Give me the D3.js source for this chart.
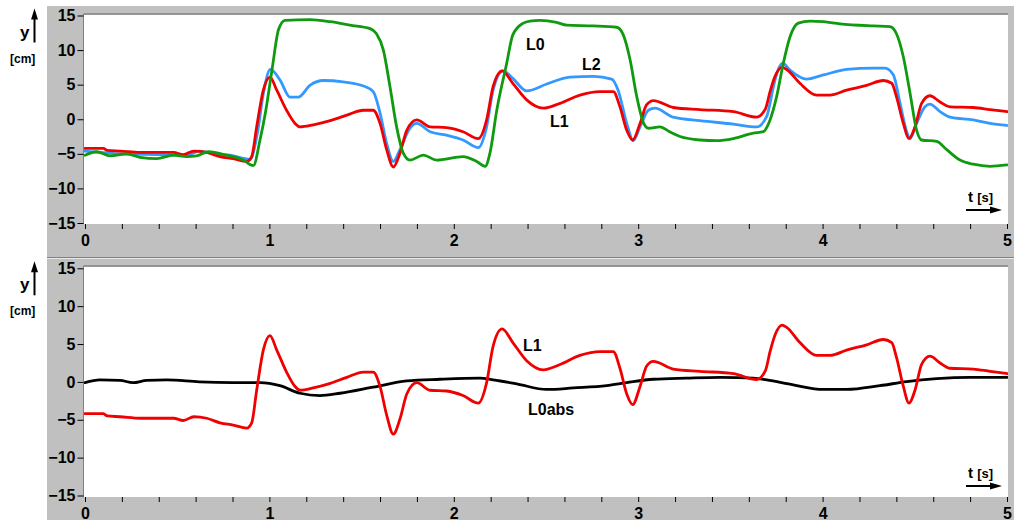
<!DOCTYPE html>
<html>
<head>
<meta charset="utf-8">
<script src="https://cdn.jsdelivr.net/npm/d3@7"></script>
<style>
  html, body { margin: 0; padding: 0; background: #ffffff; }
  svg { display: block; }
  text { font-family: Arial, "Liberation Sans", sans-serif; font-weight: bold; }
</style>
</head>
<body>
<svg id="chart" width="1014" height="520"></svg>
<script>
// ---------------- data ----------------
const yTicks = [15, 10, 5, 0, -5, -10, -15];
const xLabels = [0, 1, 2, 3, 4, 5];
const xMinorStep = 0.2;

// L0 (green)
const tL0 = [0, 0.063, 0.136, 0.226, 0.298, 0.389, 0.479, 0.551, 0.606, 0.669, 0.768, 0.858, 0.913, 0.949, 0.98, 1.015, 1.05, 1.085, 1.22, 1.33, 1.437, 1.546, 1.58, 1.618, 1.654, 1.69, 1.726, 1.762, 1.835, 1.907, 2.05, 2.124, 2.17, 2.196, 2.233, 2.287, 2.32, 2.377, 2.413, 2.467, 2.557, 2.612, 2.757, 2.883, 2.919, 2.956, 2.992, 3.03, 3.055, 3.118, 3.17, 3.227, 3.335, 3.426, 3.516, 3.624, 3.678, 3.715, 3.751, 3.787, 3.823, 3.868, 3.932, 4.004, 4.094, 4.275, 4.365, 4.40, 4.438, 4.474, 4.51, 4.537, 4.619, 4.673, 4.745, 4.817, 4.908, 5.0];
const L0  = [-5.2, -4.7, -5.3, -5.0, -5.5, -5.7, -5.2, -5.4, -5.3, -4.7, -5.2, -5.9, -6.7, -3.0, 1.2, 7.3, 13.0, 14.3, 14.4, 14.1, 13.6, 13.1, 12.4, 10.0, 4.7, -1.1, -4.9, -5.9, -5.2, -5.9, -5.4, -6.1, -6.8, -4.9, 1.3, 8.1, 12.2, 13.9, 14.2, 14.3, 14.0, 13.6, 13.5, 13.3, 12.2, 8.6, 3.3, -0.6, -1.3, -1.1, -1.8, -2.5, -3.0, -3.1, -2.8, -2.0, -1.8, -0.1, 3.3, 8.1, 11.9, 13.9, 14.2, 14.1, 13.8, 13.5, 13.4, 12.4, 9.0, 3.8, -1.6, -3.0, -3.2, -4.4, -5.9, -6.5, -6.8, -6.6];

// L1 (red)
const tL1 = [0, 0.1, 0.12, 0.19, 0.3, 0.48, 0.533, 0.59, 0.66, 0.732, 0.804, 0.877, 0.904, 0.931, 0.967, 1.003, 1.04, 1.093, 1.139, 1.166, 1.238, 1.33, 1.42, 1.51, 1.563, 1.6, 1.636, 1.672, 1.708, 1.745, 1.799, 1.871, 1.961, 2.05, 2.133, 2.178, 2.213, 2.262, 2.32, 2.395, 2.485, 2.576, 2.684, 2.793, 2.865, 2.901, 2.938, 2.97, 3.01, 3.046, 3.082, 3.19, 3.335, 3.516, 3.642, 3.69, 3.715, 3.742, 3.78, 3.805, 3.877, 3.967, 4.04, 4.13, 4.239, 4.329, 4.375, 4.40, 4.438, 4.468, 4.501, 4.537, 4.582, 4.637, 4.691, 4.817, 4.908, 5.0];
const L1  = [-4.2, -4.2, -4.5, -4.6, -4.8, -4.8, -5.1, -4.6, -4.8, -5.4, -5.7, -6.1, -5.4, -1.1, 4.2, 6.1, 4.2, 1.3, -0.6, -1.1, -0.8, -0.2, 0.6, 1.3, 1.3, -0.6, -4.4, -6.9, -4.9, -1.6, -0.1, -1.1, -1.2, -1.8, -2.8, -0.1, 4.7, 7.0, 5.2, 2.8, 1.6, 2.3, 3.5, 4.0, 4.0, 1.8, -1.6, -3.0, -0.6, 2.1, 2.7, 1.7, 1.4, 1.1, 0.3, 1.5, 4.0, 6.2, 7.5, 7.2, 5.2, 3.5, 3.5, 4.2, 4.9, 5.6, 5.2, 3.3, -0.6, -2.8, -1.1, 2.3, 3.4, 2.5, 1.8, 1.7, 1.4, 1.1];

// L2 (blue)
const tL2 = [0, 0.2, 0.4, 0.55, 0.62, 0.7, 0.786, 0.895, 0.935, 0.967, 1.005, 1.057, 1.112, 1.157, 1.22, 1.292, 1.4, 1.51, 1.563, 1.6, 1.636, 1.672, 1.708, 1.762, 1.799, 1.871, 1.961, 2.05, 2.133, 2.178, 2.213, 2.268, 2.32, 2.395, 2.504, 2.63, 2.757, 2.856, 2.891, 2.938, 2.973, 3.01, 3.055, 3.091, 3.19, 3.335, 3.516, 3.642, 3.697, 3.715, 3.733, 3.783, 3.823, 3.913, 4.004, 4.13, 4.275, 4.338, 4.384, 4.42, 4.456, 4.474, 4.51, 4.555, 4.582, 4.637, 4.691, 4.817, 4.908, 5.0];
const L2  = [-4.6, -5.0, -5.1, -5.2, -4.6, -5.0, -5.2, -5.8, -2.0, 3.7, 7.2, 5.7, 3.2, 3.2, 4.9, 5.6, 5.4, 4.8, 4.0, 0.9, -3.5, -6.1, -4.4, -1.3, -0.6, -1.8, -2.3, -3.0, -4.1, -1.1, 4.2, 7.0, 5.9, 4.1, 5.1, 6.1, 6.2, 5.8, 4.2, -0.6, -3.1, -1.1, 1.3, 1.6, 0.3, -0.2, -0.7, -1.1, 0.4, 2.3, 4.7, 8.1, 7.1, 5.8, 6.4, 7.2, 7.4, 7.4, 6.4, 2.3, -1.8, -2.8, -0.6, 1.8, 2.2, 1.1, 0.3, -0.1, -0.6, -0.9];

// L0abs (black)
const tL0abs = [0, 0.08, 0.19, 0.26, 0.335, 0.443, 0.62, 0.8, 0.95, 1.057, 1.166, 1.274, 1.383, 1.563, 1.745, 1.925, 2.142, 2.214, 2.341, 2.504, 2.648, 2.829, 2.938, 3.082, 3.263, 3.444, 3.624, 3.697, 3.841, 4.004, 4.13, 4.311, 4.456, 4.619, 4.8, 5.0];
const L0abs  = [-0.1, 0.26, 0.2, -0.1, 0.2, 0.26, 0.0, -0.1, -0.1, -0.5, -1.5, -1.8, -1.5, -0.7, 0.13, 0.35, 0.5, 0.26, -0.26, -1.0, -0.8, -0.5, -0.1, 0.35, 0.5, 0.6, 0.5, 0.26, -0.4, -1.0, -1.0, -0.5, 0.04, 0.43, 0.6, 0.6];

// ---------------- drawing ----------------
const svg = d3.select("#chart");
const GREY = "#c0c0c0";

const panels = [
  { gy0: 6, gy1: 257, wy0: 14.5, wy1: 224, yr: [223, 15.5],
    series: [
      { t: tL2, v: L2, color: "#3399ff" },
      { t: tL1, v: L1, color: "#f00000" },
      { t: tL0, v: L0, color: "#109a10" }
    ],
    labels: [
      { text: "L0", x: 526, y: 50 },
      { text: "L2", x: 582, y: 70 },
      { text: "L1", x: 550, y: 127 }
    ],
    tLabelY: 202, tArrowY: 210 },
  { gy0: 259, gy1: 520, wy0: 266.5, wy1: 497, yr: [495.5, 268.3],
    series: [
      { t: tL0abs, v: L0abs, color: "#000000" },
      { t: tL1, v: L1, color: "#f00000" }
    ],
    labels: [
      { text: "L1", x: 523, y: 351 },
      { text: "L0abs", x: 528, y: 415 }
    ],
    tLabelY: 478, tArrowY: 486 }
];

const x = d3.scaleLinear().domain([0, 5]).range([85, 1007]);
const xMinor = d3.range(0, 5 + 1e-9, xMinorStep).map(d => +d.toFixed(2));

svg.append("rect").attr("x", 0).attr("y", 0).attr("width", 1014).attr("height", 520).attr("fill", "#ffffff");

panels.forEach((p, i) => {
  const g = svg.append("g");
  g.append("rect").attr("x", 47).attr("y", p.gy0).attr("width", 1014 - 47).attr("height", p.gy1 - p.gy0).attr("fill", GREY);
  g.append("rect").attr("x", 84).attr("y", p.wy0).attr("width", 1008 - 84).attr("height", p.wy1 - p.wy0).attr("fill", "#ffffff");
  // sunken border (top + left)
  g.append("line").attr("x1", 83.5).attr("x2", 1008).attr("y1", p.wy0 - 0.5).attr("y2", p.wy0 - 0.5).attr("stroke", "#808080").attr("stroke-width", 1.5);
  g.append("line").attr("x1", 83.5).attr("x2", 83.5).attr("y1", p.wy0 - 0.5).attr("y2", p.wy1).attr("stroke", "#808080").attr("stroke-width", 1);

  const y = d3.scaleLinear().domain([-15, 15]).range(p.yr);

  // y axis
  const ya = g.append("g").attr("transform", "translate(83.5,0)")
    .call(d3.axisLeft(y).tickValues(yTicks).tickSize(6).tickPadding(2).tickFormat(d3.format("d")));
  ya.select(".domain").remove();
  ya.selectAll(".tick line").attr("stroke", "#000").attr("stroke-width", 1);
  ya.selectAll(".tick text").attr("font-size", 16).attr("font-weight", "bold").attr("fill", "#000")
    .attr("font-family", "Arial, 'Liberation Sans', sans-serif");

  // x axis
  const xa = g.append("g").attr("transform", `translate(0,${p.wy1})`)
    .call(d3.axisBottom(x).tickValues(xMinor).tickSize(5).tickPadding(6)
      .tickFormat(d => xLabels.includes(d) ? String(d) : ""));
  xa.select(".domain").remove();
  xa.selectAll(".tick line").attr("stroke", "#000").attr("stroke-width", 1);
  xa.selectAll(".tick text").attr("font-size", 16).attr("font-weight", "bold").attr("fill", "#000")
    .attr("font-family", "Arial, 'Liberation Sans', sans-serif");

  // lines
  const clipId = "clip" + i;
  g.append("clipPath").attr("id", clipId).append("rect")
    .attr("x", 84).attr("y", p.wy0).attr("width", 1008 - 84).attr("height", p.wy1 - p.wy0);
  const line = d3.line().x(d => x(d[0])).y(d => y(d[1])).curve(d3.curveMonotoneX);
  const lg = g.append("g").attr("clip-path", `url(#${clipId})`);
  p.series.forEach(s => {
    lg.append("path").datum(s.t.map((t, k) => [t, s.v[k]]))
      .attr("d", line).attr("fill", "none").attr("stroke", s.color)
      .attr("stroke-width", 2.8).attr("stroke-linejoin", "round").attr("stroke-linecap", "round");
  });

  // series labels
  p.labels.forEach(l => {
    g.append("text").attr("x", l.x).attr("y", l.y).attr("font-size", 16).attr("fill", "#000").text(l.text);
  });

  // y unit label with arrow
  const top = y(15);
  g.append("text").attr("x", 20).attr("y", top + 22).attr("font-size", 17).attr("fill", "#000").text("y");
  g.append("line").attr("x1", 34.5).attr("x2", 34.5).attr("y1", top + 27).attr("y2", top - 2)
    .attr("stroke", "#000").attr("stroke-width", 2);
  g.append("path").attr("d", `M34.5,${top - 7} L31,${top + 4} L38,${top + 4} Z`).attr("fill", "#000");
  g.append("text").attr("x", 10).attr("y", top + 47).attr("font-size", 12).attr("font-weight", "normal")
    .attr("fill", "#000").text("[cm]");

  // t [s] label with arrow
  g.append("text").attr("x", 968).attr("y", p.tLabelY).attr("font-size", 15).attr("fill", "#000")
    .text("t ").append("tspan").attr("font-size", 13).text("[s]");
  g.append("line").attr("x1", 966).attr("x2", 994).attr("y1", p.tArrowY).attr("y2", p.tArrowY)
    .attr("stroke", "#000").attr("stroke-width", 2);
  g.append("path").attr("d", `M1002,${p.tArrowY} L990,${p.tArrowY - 3.5} L990,${p.tArrowY + 3.5} Z`).attr("fill", "#000");
});

// separator lines between panels
svg.append("line").attr("x1", 47).attr("x2", 1014).attr("y1", 257.5).attr("y2", 257.5).attr("stroke", "#808080");
svg.append("line").attr("x1", 47).attr("x2", 1014).attr("y1", 258.5).attr("y2", 258.5).attr("stroke", "#e8e8e8");
</script>
</body>
</html>
